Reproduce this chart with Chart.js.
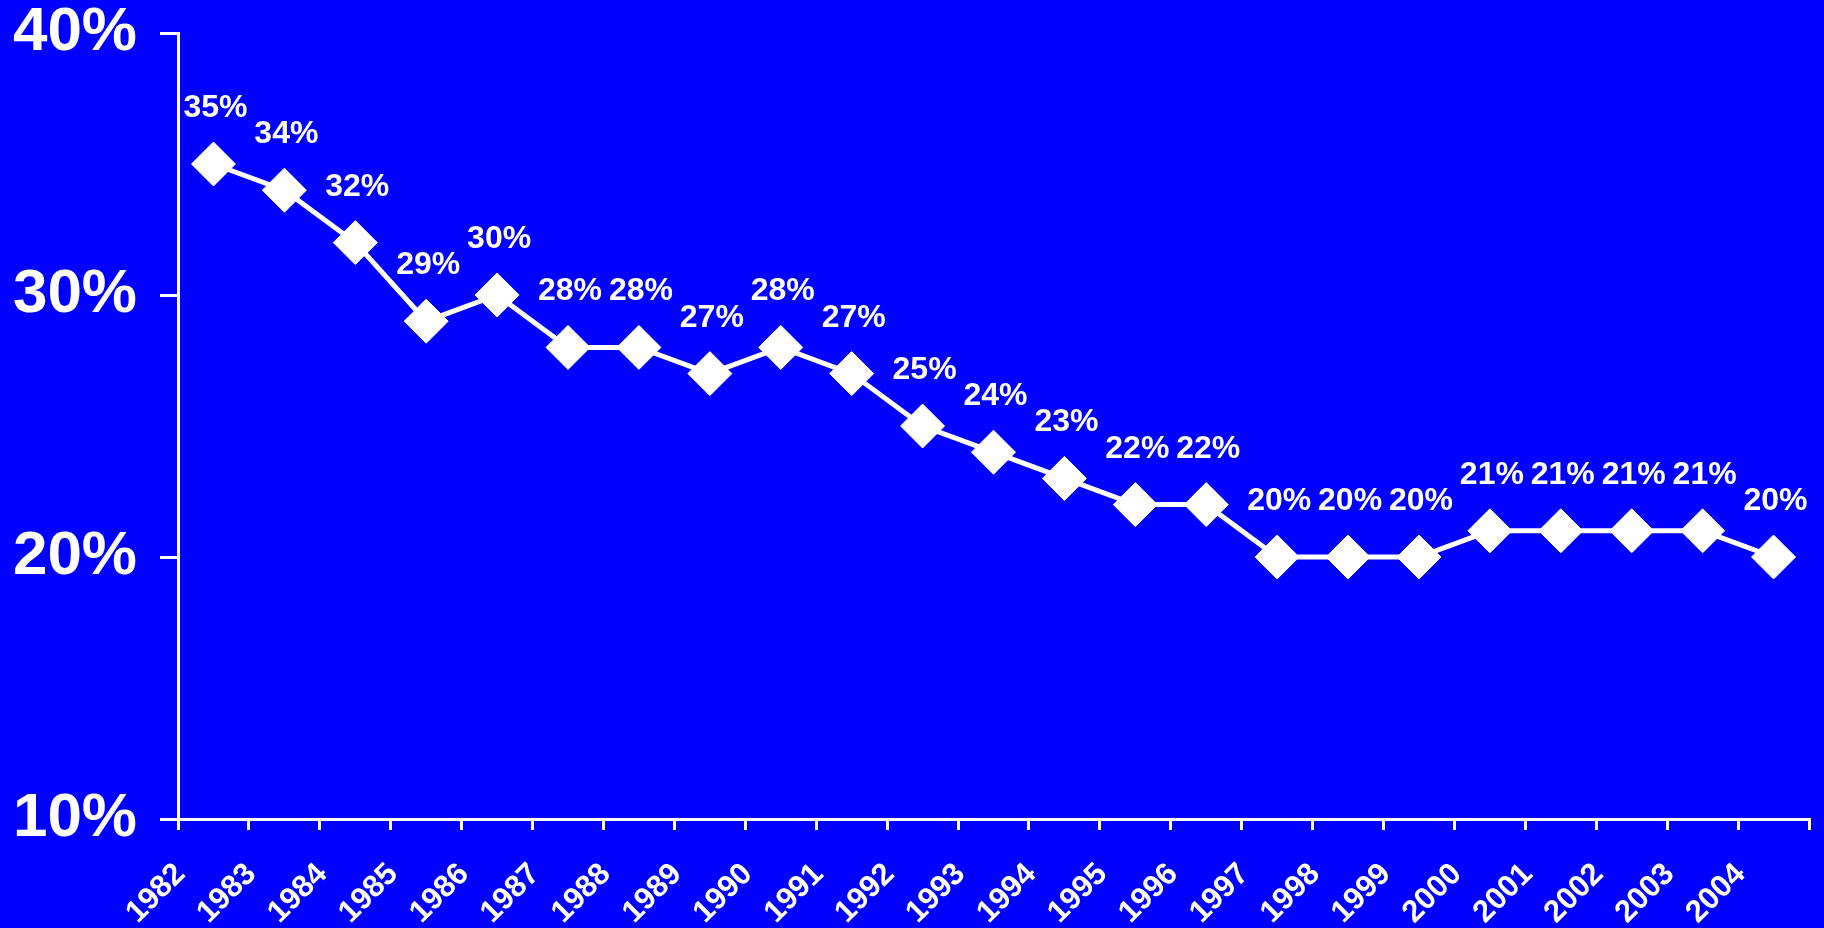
<!DOCTYPE html>
<html>
<head>
<meta charset="utf-8">
<script src="https://cdn.jsdelivr.net/npm/chart.js@4.4.1/dist/chart.umd.min.js"></script>
<style>
  html, body { margin: 0; padding: 0; background: #0000FF; }
  #wrap { width: 1824px; height: 928px; }
</style>
</head>
<body>
<div id="wrap"><canvas id="c" width="1824" height="928"></canvas></div>
<script>
const years = ['1982','1983','1984','1985','1986','1987','1988','1989','1990','1991','1992','1993','1994','1995','1996','1997','1998','1999','2000','2001','2002','2003','2004'];
const shares = [35,34,32,29,30,28,28,27,28,27,25,24,23,22,22,20,20,20,21,21,21,21,20];
const yTicks = [10,20,30,40];

const FONT = "'Liberation Sans', Arial, sans-serif";

const valueLabels = {
  id: 'valueLabels',
  afterDatasetsDraw(chart) {
    const ctx = chart.ctx;
    const meta = chart.getDatasetMeta(0);
    ctx.save();
    ctx.fillStyle = '#ffffff';
    ctx.font = 'bold 32px ' + FONT;
    ctx.textAlign = 'center';
    ctx.textBaseline = 'alphabetic';
    meta.data.forEach((pt, i) => {
      ctx.fillText(shares[i] + '%', pt.x + 2, pt.y - 47);
    });
    ctx.restore();
  }
};

new Chart(document.getElementById('c'), {
  type: 'line',
  data: {
    labels: years,
    datasets: [{
      data: shares,
      borderColor: '#ffffff',
      borderWidth: 5,
      backgroundColor: '#ffffff',
      pointStyle: 'rectRot',
      pointRadius: 22,
      pointBorderWidth: 1,
      pointBorderColor: '#ffffff',
      pointBackgroundColor: '#ffffff',
      tension: 0,
      fill: false,
      clip: false
    }]
  },
  options: {
    responsive: false,
    animation: false,
    devicePixelRatio: 1,
    layout: { autoPadding: false, padding: { top: 33, right: 15, left: 0, bottom: 0 } },
    plugins: { legend: { display: false }, tooltip: { enabled: false } },
    scales: {
      x: {
        offset: true,
        grid: { offset: true, drawOnChartArea: false, drawTicks: true, tickLength: 11, color: '#ffffff', lineWidth: 3 },
        border: { display: true, color: '#ffffff', width: 3 },
        ticks: {
          color: '#ffffff',
          font: { family: FONT, size: 31, weight: 'bold' },
          minRotation: 45, maxRotation: 45,
          autoSkip: false,
          labelOffset: -33,
          padding: 26
        },
        afterFit(scale) { scale.height = 109; scale.paddingLeft = 0; scale.paddingRight = 0; }
      },
      y: {
        min: 10, max: 40,
        afterBuildTicks(scale) { scale.ticks = yTicks.map(v => ({ value: v })); },
        grid: { drawOnChartArea: false, drawTicks: true, tickLength: 18, color: '#ffffff', lineWidth: 3 },
        border: { display: true, color: '#ffffff', width: 3 },
        ticks: {
          color: '#ffffff',
          font: { family: FONT, size: 62, weight: 'bold' },
          padding: 23,
          callback: v => v + '%'
        },
        afterFit(scale) { scale.width = 178; scale.paddingTop = 0; scale.paddingBottom = 0; }
      }
    }
  },
  plugins: [valueLabels]
});
</script>
</body>
</html>
